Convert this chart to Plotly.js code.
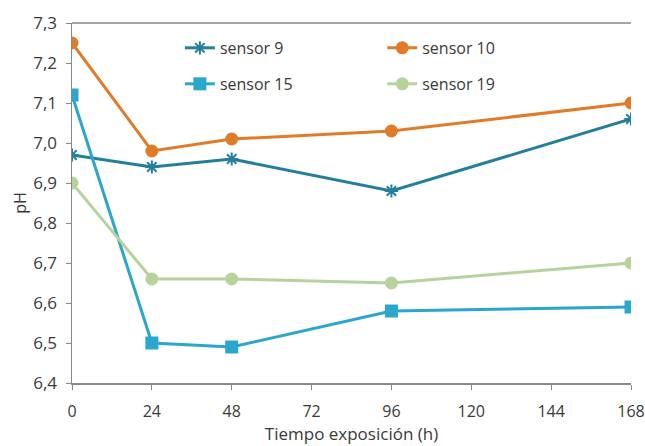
<!DOCTYPE html>
<html><head><meta charset="utf-8">
<script src="https://cdn.plot.ly/plotly-3.0.1.min.js"></script>
<style>html,body{margin:0;padding:0;background:#fff}</style>
</head><body><div id="c" style="width:645px;height:446px"></div>
<script>
const hours = [0, 24, 48, 96, 168];
const sensor9 = [6.97, 6.94, 6.96, 6.88, 7.06];
const sensor10 = [7.25, 6.98, 7.01, 7.03, 7.10];
const sensor15 = [7.12, 6.50, 6.49, 6.58, 6.59];
const sensor19 = [6.90, 6.66, 6.66, 6.65, 6.70];
const xTicks = [0, 24, 48, 72, 96, 120, 144, 168];

const font = {family: 'Open Sans, Noto Sans, sans-serif', size: 16, color: '#3a3a3a'};
const traces = [
  {x: hours, y: sensor9, name: 'sensor 9', mode: 'lines+markers', legend: 'legend',
   line: {color: '#237f9b', width: 3}, marker: {symbol: 'asterisk-open', size: 11, line: {color: '#3a9cc0', width: 2}}},
  {x: hours, y: sensor10, name: 'sensor 10', mode: 'lines+markers', legend: 'legend2',
   line: {color: '#e07b2a', width: 3}, marker: {symbol: 'circle', size: 13, color: '#e07b2a'}},
  {x: hours, y: sensor15, name: 'sensor 15', mode: 'lines+markers', legend: 'legend3',
   line: {color: '#2ba6cc', width: 3}, marker: {symbol: 'square', size: 13, color: '#2ba6cc'}},
  {x: hours, y: sensor19, name: 'sensor 19', mode: 'lines+markers', legend: 'legend4',
   line: {color: '#b6d39c', width: 3}, marker: {symbol: 'circle', size: 13, color: '#b6d39c'}}
];
const leg = (x, y) => ({x: x, y: y, xanchor: 'left', yanchor: 'top', bgcolor: 'rgba(0,0,0,0)', font: {size: 16}, itemwidth: 30});
const layout = {
  width: 645, height: 446,
  margin: {l: 72, r: 14, t: 23, b: 63},
  separators: ',.',
  font: font,
  paper_bgcolor: '#fff', plot_bgcolor: '#fff',
  showlegend: true,
  xaxis: {range: [0, 168], tickvals: xTicks, ticks: 'outside', ticklen: 5, tickcolor: '#888',
    showline: true, linecolor: '#888', linewidth: 1.5, showgrid: false, zeroline: false,
    ticklabelstandoff: 8,
    tickfont: {size: 16}, title: {text: 'Tiempo exposición (h)', font: {size: 17}, standoff: 3}},
  yaxis: {range: [6.4, 7.3], dtick: 0.1, tickformat: '.1f', ticks: 'outside', ticklen: 5, tickcolor: '#888',
    showline: true, linecolor: '#888', linewidth: 1.5, showgrid: false, zeroline: false,
    ticklabelstandoff: 5,
    tickfont: {size: 17}, title: {text: 'pH', font: {size: 16}, standoff: 2}},
  legend: leg(0.193, 0.978),
  legend2: leg(0.555, 0.978),
  legend3: leg(0.193, 0.878),
  legend4: leg(0.555, 0.878),
  shapes: [{type: 'line', xref: 'paper', yref: 'paper', x0: 0, x1: 1, y0: 1, y1: 1, line: {color: '#888', width: 1.5}}]
};
Plotly.newPlot('c', traces, layout, {displayModeBar: false, staticPlot: true});
</script></body></html>
